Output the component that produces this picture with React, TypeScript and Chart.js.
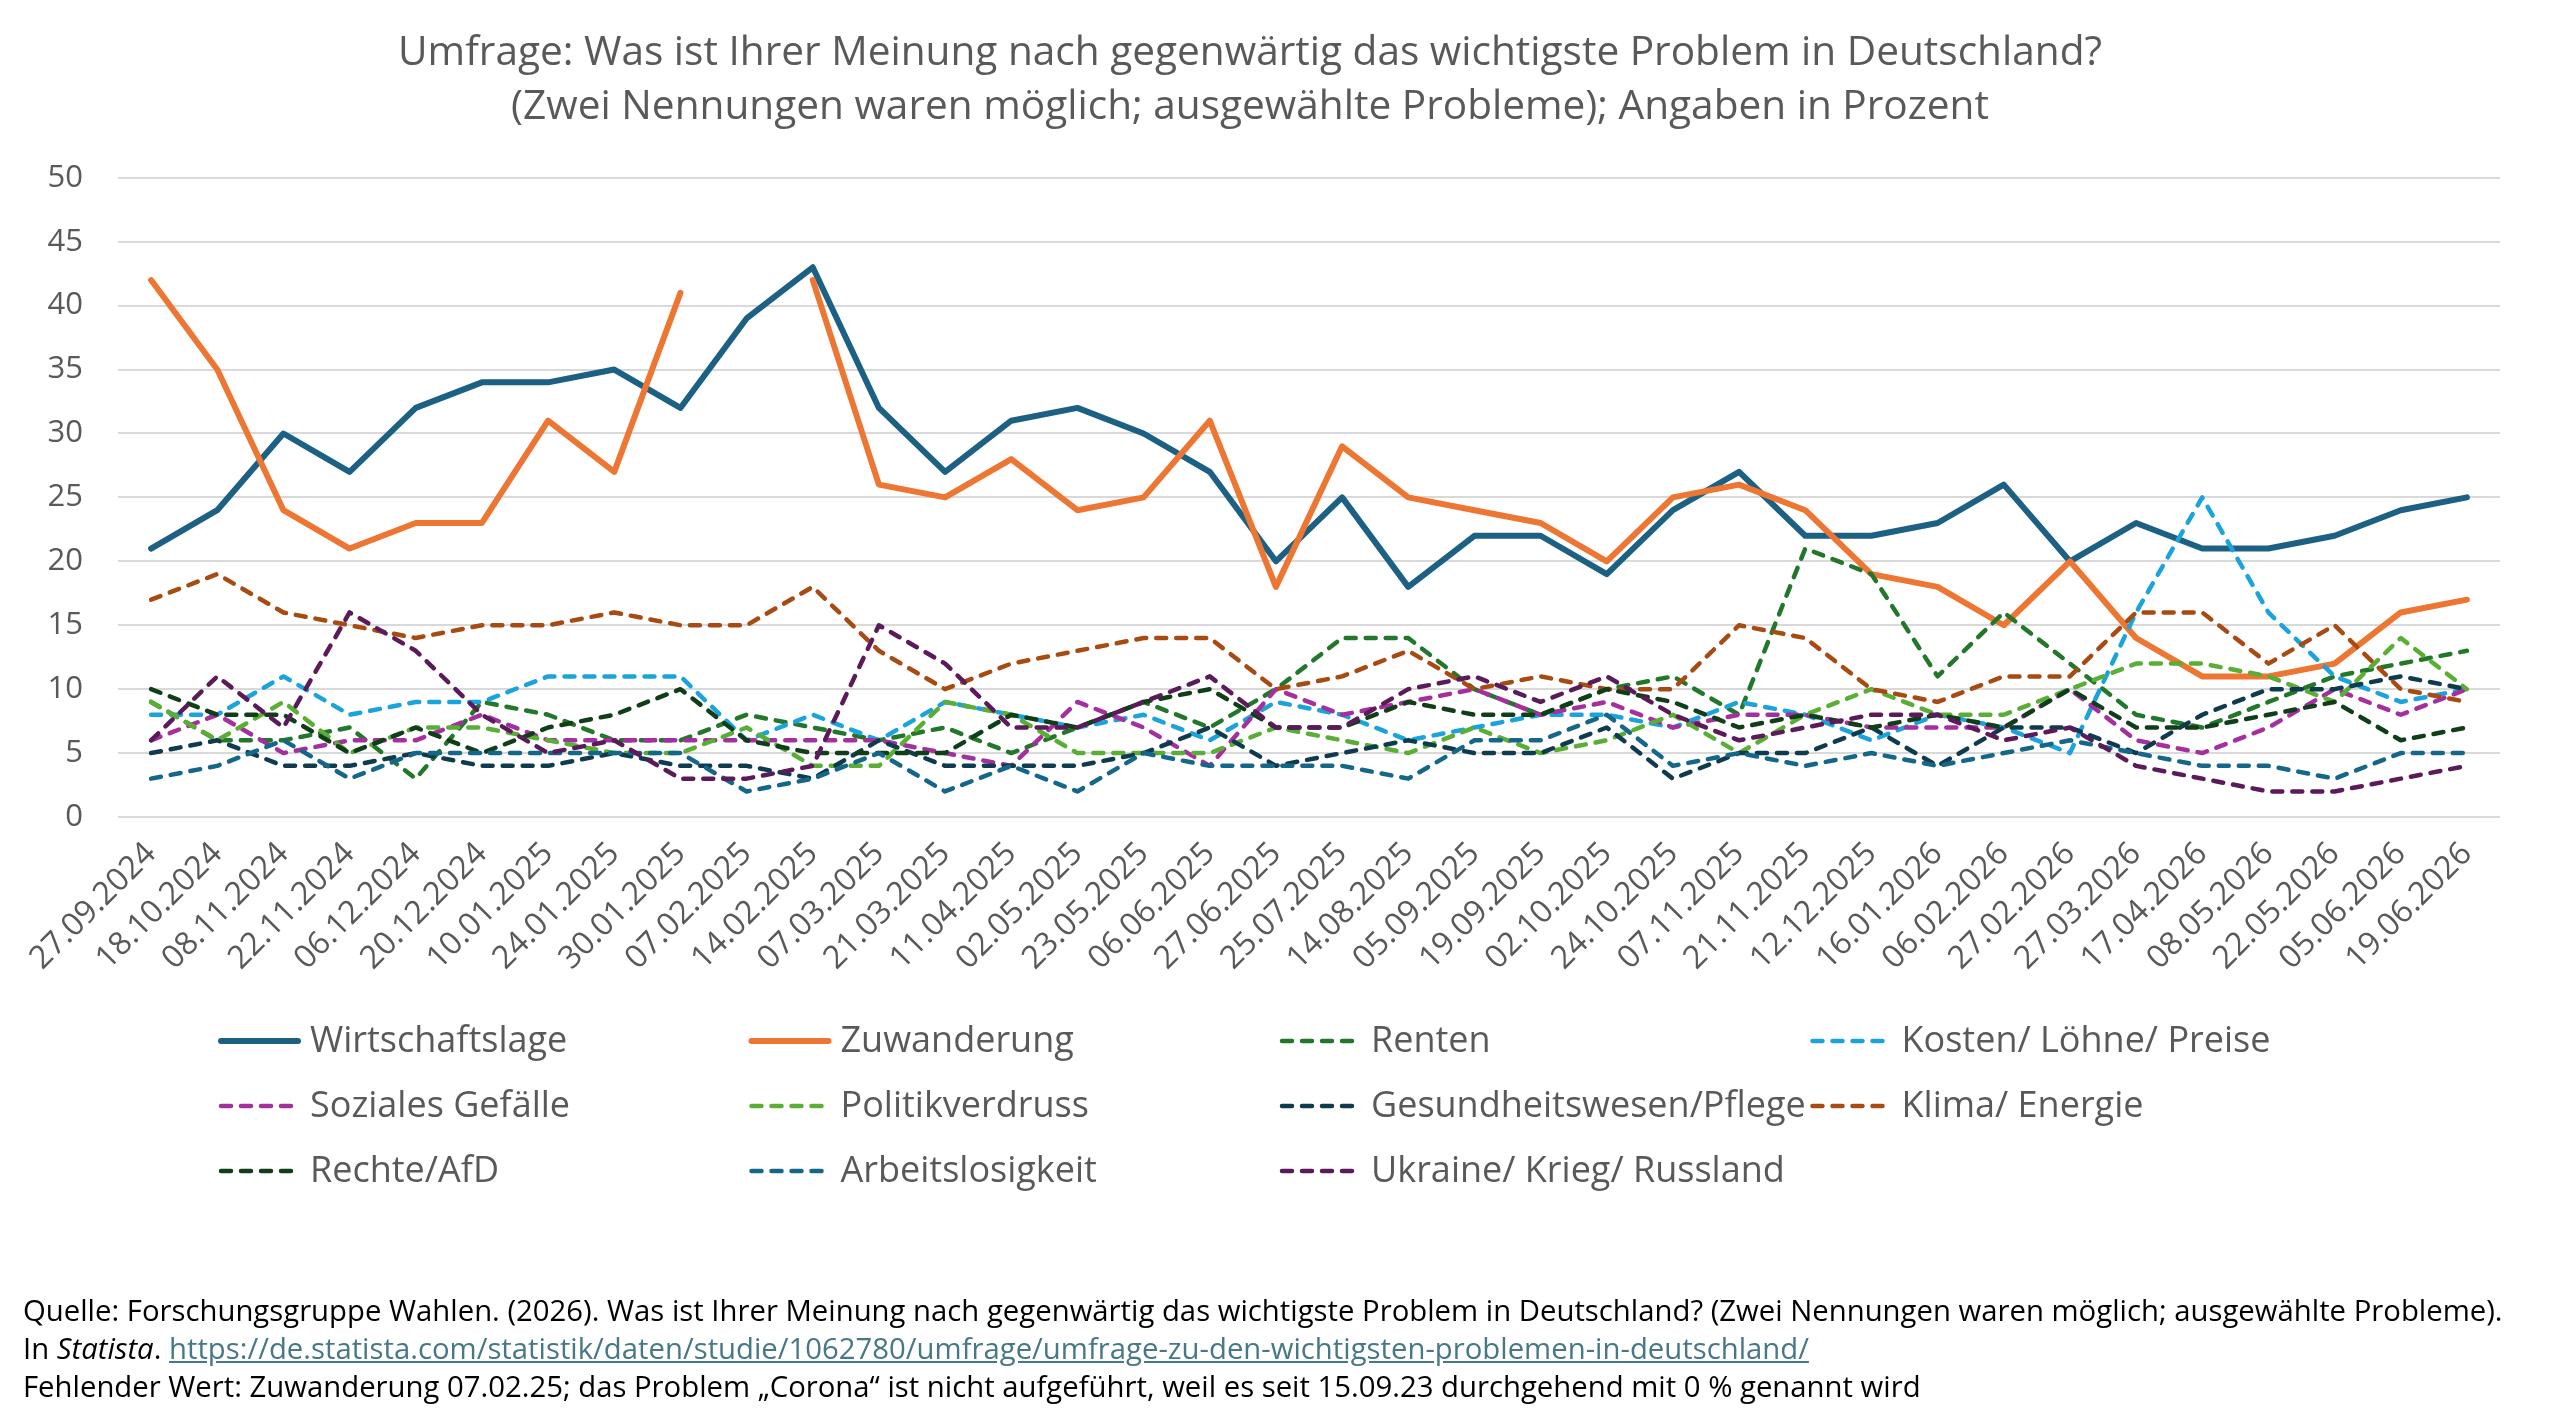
import React, { useEffect, useRef } from "react";
import { Chart, registerables } from "chart.js";
Chart.register(...registerables);

const labels = [
  "27.09.2024", "18.10.2024", "08.11.2024", "22.11.2024", "06.12.2024", "20.12.2024",
  "10.01.2025", "24.01.2025", "30.01.2025", "07.02.2025", "14.02.2025", "07.03.2025",
  "21.03.2025", "11.04.2025", "02.05.2025", "23.05.2025", "06.06.2025", "27.06.2025",
  "25.07.2025", "14.08.2025", "05.09.2025", "19.09.2025", "02.10.2025", "24.10.2025",
  "07.11.2025", "21.11.2025", "12.12.2025", "16.01.2026", "06.02.2026", "27.02.2026",
  "27.03.2026", "17.04.2026", "08.05.2026", "22.05.2026", "05.06.2026", "19.06.2026",
];

const yTicks = [0, 5, 10, 15, 20, 25, 30, 35, 40, 45, 50];

const wirtschaftslage = [21, 24, 30, 27, 32, 34, 34, 35, 32, 39, 43, 32, 27, 31, 32, 30, 27, 20, 25, 18, 22, 22, 19, 24, 27, 22, 22, 23, 26, 20, 23, 21, 21, 22, 24, 25];
const zuwanderung = [42, 35, 24, 21, 23, 23, 31, 27, 41, null, 42, 26, 25, 28, 24, 25, 31, 18, 29, 25, 24, 23, 20, 25, 26, 24, 19, 18, 15, 20, 14, 11, 11, 12, 16, 17];
const renten = [9, 6, 6, 7, 3, 9, 8, 6, 6, 8, 7, 6, 7, 5, 7, 9, 7, 10, 14, 14, 10, 8, 10, 11, 8, 21, 19, 11, 16, 12, 8, 7, 9, 11, 12, 13];
const kosten = [8, 8, 11, 8, 9, 9, 11, 11, 11, 6, 8, 6, 9, 8, 7, 8, 6, 9, 8, 6, 7, 8, 8, 7, 9, 8, 6, 8, 7, 5, 16, 25, 16, 11, 9, 10];
const soziales = [6, 8, 5, 6, 6, 8, 6, 6, 6, 6, 6, 6, 5, 4, 9, 7, 4, 10, 8, 9, 10, 8, 9, 7, 8, 8, 7, 7, 7, 10, 6, 5, 7, 10, 8, 10];
const politikverdruss = [9, 6, 9, 5, 7, 7, 6, 5, 5, 7, 4, 4, 9, 8, 5, 5, 5, 7, 6, 5, 7, 5, 6, 8, 5, 8, 10, 8, 8, 10, 12, 12, 11, 9, 14, 10];
const gesundheit = [5, 6, 4, 4, 5, 4, 4, 5, 4, 4, 3, 6, 4, 4, 4, 5, 7, 4, 5, 6, 5, 5, 7, 3, 5, 5, 7, 4, 7, 7, 5, 8, 10, 10, 11, 10];
const klima = [17, 19, 16, 15, 14, 15, 15, 16, 15, 15, 18, 13, 10, 12, 13, 14, 14, 10, 11, 13, 10, 11, 10, 10, 15, 14, 10, 9, 11, 11, 16, 16, 12, 15, 10, 9];
const rechte = [10, 8, 8, 5, 7, 5, 7, 8, 10, 6, 5, 5, 5, 8, 7, 9, 10, 7, 7, 9, 8, 8, 10, 9, 7, 8, 7, 8, 7, 10, 7, 7, 8, 9, 6, 7];
const arbeitslosigkeit = [3, 4, 6, 3, 5, 5, 5, 5, 5, 2, 3, 5, 2, 4, 2, 5, 4, 4, 4, 3, 6, 6, 8, 4, 5, 4, 5, 4, 5, 6, 5, 4, 4, 3, 5, 5];
const ukraine = [6, 11, 7, 16, 13, 8, 5, 6, 3, 3, 4, 15, 12, 7, 7, 9, 11, 7, 7, 10, 11, 9, 11, 8, 6, 7, 8, 8, 6, 7, 4, 3, 2, 2, 3, 4];

const seriesNames = [
  "Wirtschaftslage", "Zuwanderung", "Renten", "Kosten/ Löhne/ Preise",
  "Soziales Gefälle", "Politikverdruss", "Gesundheitswesen/Pflege", "Klima/ Energie",
  "Rechte/AfD", "Arbeitslosigkeit", "Ukraine/ Krieg/ Russland",
];
const seriesValues = [
  wirtschaftslage, zuwanderung, renten, kosten, soziales, politikverdruss,
  gesundheit, klima, rechte, arbeitslosigkeit, ukraine,
];
const seriesColors = [
  "#1C6083", "#ED7633", "#22772A", "#1BA3DB", "#A3309E", "#5AAE36",
  "#0F3B4F", "#A74B13", "#0F3E19", "#156789", "#5B1A5A",
];
const seriesSolid = [true, true, false, false, false, false, false, false, false, false, false];

const titleLines = [
  "Umfrage: Was ist Ihrer Meinung nach gegenwärtig das wichtigste Problem in Deutschland?",
  "(Zwei Nennungen waren möglich; ausgewählte Probleme); Angaben in Prozent",
];

const FONT = '"Open Sans", "DejaVu Sans", sans-serif';
const GRAY = "#595959";

const legendPlugin = {
  id: "gridLegend",
  afterDraw(chart: any) {
    const ctx = chart.ctx as CanvasRenderingContext2D;
    const x0 = 218;
    const colW = 530.5;
    const y0 = 1041;
    const rowH = 65;
    ctx.save();
    chart.data.datasets.forEach((ds: any, k: number) => {
      const row = Math.floor(k / 4);
      const col = k % 4;
      const x = x0 + col * colW;
      const y = y0 + row * rowH;
      ctx.beginPath();
      ctx.strokeStyle = ds.borderColor;
      ctx.lineWidth = ds.borderWidth;
      ctx.setLineDash(ds.borderDash || []);
      ctx.lineCap = "round";
      ctx.moveTo(x + 3, y);
      ctx.lineTo(x + 80, y);
      ctx.stroke();
      ctx.setLineDash([]);
      ctx.fillStyle = GRAY;
      ctx.font = `36px ${FONT}`;
      ctx.textBaseline = "middle";
      ctx.textAlign = "left";
      ctx.fillText(ds.label, x + 92, y + 1);
    });
    ctx.restore();
  },
};

export default function App() {
  const ref = useRef<HTMLCanvasElement | null>(null);

  useEffect(() => {
    if (!ref.current) return;
    const datasets = seriesNames.map((name, i) => ({
      label: name,
      data: seriesValues[i],
      borderColor: seriesColors[i],
      backgroundColor: seriesColors[i],
      borderWidth: seriesSolid[i] ? 6 : 4.5,
      borderDash: seriesSolid[i] ? [] : [10, 10],
      borderCapStyle: "round",
      borderJoinStyle: "round",
      pointRadius: 0,
      tension: 0,
      fill: false,
      spanGaps: false,
      order: seriesNames.length - i,
    }));
    const chart = new Chart(ref.current, {
      type: "line",
      data: { labels, datasets: datasets as any },
      plugins: [legendPlugin],
      options: {
        responsive: false,
        animation: false,
        devicePixelRatio: 1,
        layout: { padding: { left: 0, right: 60, top: 0, bottom: 439 } },
        plugins: {
          legend: { display: false },
          tooltip: { enabled: false },
          title: {
            display: true,
            text: titleLines,
            color: GRAY,
            font: { family: FONT, size: 40.6, weight: "normal", lineHeight: 1.34 },
            padding: { top: 26, bottom: 43 },
          },
        },
        scales: {
          x: {
            type: "category",
            offset: true,
            grid: { display: false },
            border: { display: false },
            afterFit: (scale: any) => {
              scale.height = 170;
            },
            ticks: {
              autoSkip: false,
              maxRotation: 45,
              minRotation: 45,
              color: GRAY,
              padding: 10,
              font: { family: FONT, size: 32 },
            },
          },
          y: {
            min: 0,
            max: 50,
            afterFit: (scale: any) => {
              scale.width = 118;
            },
            afterBuildTicks: (scale: any) => {
              scale.ticks = yTicks.map((v) => ({ value: v }));
            },
            grid: { color: "#D9D9D9", lineWidth: 2, drawTicks: false },
            border: { display: false },
            ticks: {
              color: GRAY,
              padding: 35,
              font: { family: FONT, size: 31 },
            },
          },
        },
      },
    });
    return () => chart.destroy();
  }, []);

  const footStyle: React.CSSProperties = {
    position: "absolute",
    left: 23,
    top: 1291,
    fontFamily: FONT,
    fontSize: 29.3,
    lineHeight: "38px",
    color: "#000",
    whiteSpace: "nowrap",
  };

  return (
    <div style={{ position: "absolute", left: 0, top: 0, width: 2560, height: 1426, background: "#fff", overflow: "hidden" }}>
      <canvas ref={ref} width={2560} height={1426} style={{ width: 2560, height: 1426, display: "block" }} />
      <div style={footStyle}>
        <div>
          Quelle: Forschungsgruppe Wahlen. (2026). Was ist Ihrer Meinung nach gegenwärtig das wichtigste Problem in Deutschland? (Zwei Nennungen waren möglich; ausgewählte Probleme).
        </div>
        <div>
          In <i>Statista</i>.{" "}
          <a href="https://de.statista.com/statistik/daten/studie/1062780/umfrage/umfrage-zu-den-wichtigsten-problemen-in-deutschland/" style={{ color: "#467886", textDecoration: "underline" }}>
            https://de.statista.com/statistik/daten/studie/1062780/umfrage/umfrage-zu-den-wichtigsten-problemen-in-deutschland/
          </a>
        </div>
        <div>
          Fehlender Wert: Zuwanderung 07.02.25; das Problem „Corona“ ist nicht aufgeführt, weil es seit 15.09.23 durchgehend mit 0 % genannt wird
        </div>
      </div>
    </div>
  );
}
